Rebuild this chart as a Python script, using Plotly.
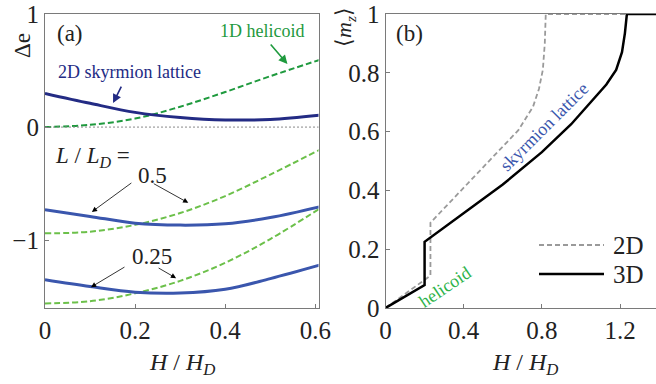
import plotly.graph_objects as go

# ---------------- data: panel (a) ----------------
H_a = [0, 0.1, 0.2, 0.3, 0.4, 0.5, 0.61]
helicoid_1d = [0, 0.02, 0.075, 0.18, 0.31, 0.45, 0.595]
skyrmion_2d = [0.298, 0.21, 0.13, 0.085, 0.063, 0.068, 0.106]
sk_L05 = [-0.73, -0.79, -0.85, -0.867, -0.855, -0.80, -0.705]
he_L05 = [-0.94, -0.925, -0.865, -0.76, -0.61, -0.42, -0.2]
sk_L025 = [-1.35, -1.41, -1.46, -1.468, -1.435, -1.34, -1.22]
he_L025 = [-1.56, -1.54, -1.47, -1.36, -1.2, -0.99, -0.72]

# ---------------- data: panel (b) ----------------
H_2d = [0, 0.23, 0.23, 0.45, 0.68, 0.755, 0.785, 0.805, 0.815, 0.82, 1.4]
mz_2d = [0, 0.11, 0.29, 0.445, 0.605, 0.685, 0.745, 0.81, 0.9, 1.0, 1.0]
H_3d = [0, 0.2, 0.2, 0.23, 0.45, 0.6, 0.8, 0.95, 1.05, 1.13, 1.18, 1.21, 1.225, 1.235, 1.4]
mz_3d = [0, 0.078, 0.225, 0.24, 0.347, 0.42, 0.53, 0.625, 0.70, 0.76, 0.81, 0.87, 0.935, 1.0, 1.0]

xticks_a = [0, 0.2, 0.4, 0.6]
yticks_a = [-1, 0, 1]
xticks_b = [0, 0.4, 0.8, 1.2]
yticks_b = [0, 0.2, 0.4, 0.6, 0.8, 1]

W, Hh = 656, 384
FONT = "Times New Roman, Liberation Serif, serif"
NAVY = "#232b84"
BLUE = "#3a56ad"
DGREEN = "#1f9a3e"
LGREEN = "#6cc04a"
GRAY = "#9a9a9a"
AX = "#7a7a7a"


def px(p):
    return p / W


def py(p):
    return 1 - p / Hh


fig = go.Figure()

# panel (a)
fig.add_trace(go.Scatter(x=H_a, y=helicoid_1d, mode="lines", line=dict(color=DGREEN, width=2, dash="6px,3px", shape="spline"), xaxis="x", yaxis="y"))
fig.add_trace(go.Scatter(x=H_a, y=skyrmion_2d, mode="lines", line=dict(color=NAVY, width=3, shape="spline"), xaxis="x", yaxis="y"))
fig.add_trace(go.Scatter(x=H_a, y=he_L05, mode="lines", line=dict(color=LGREEN, width=2, dash="6px,3px", shape="spline"), xaxis="x", yaxis="y"))
fig.add_trace(go.Scatter(x=H_a, y=sk_L05, mode="lines", line=dict(color=BLUE, width=3, shape="spline"), xaxis="x", yaxis="y"))
fig.add_trace(go.Scatter(x=H_a, y=he_L025, mode="lines", line=dict(color=LGREEN, width=2, dash="6px,3px", shape="spline"), xaxis="x", yaxis="y"))
fig.add_trace(go.Scatter(x=H_a, y=sk_L025, mode="lines", line=dict(color=BLUE, width=3, shape="spline"), xaxis="x", yaxis="y"))

# panel (b)
fig.add_trace(go.Scatter(x=H_2d, y=mz_2d, mode="lines", line=dict(color=GRAY, width=1.8, dash="5px,3px"), xaxis="x2", yaxis="y2"))
fig.add_trace(go.Scatter(x=H_3d, y=mz_3d, mode="lines", line=dict(color="black", width=2.5), xaxis="x2", yaxis="y2"))

axis_common = dict(showgrid=False, zeroline=False, showline=True, linecolor=AX, linewidth=1.2,
                   ticks="inside", ticklen=4, tickcolor=AX, automargin=False,
                   tickfont=dict(family=FONT, size=25, color="#222"))

fig.update_layout(
    width=W, height=Hh, margin=dict(l=0, r=0, t=0, b=0, autoexpand=False),
    font=dict(family=FONT),
    paper_bgcolor="white", plot_bgcolor="white", showlegend=False,
    xaxis=dict(domain=[px(45), px(318.5)], range=[0, 0.607], tickvals=xticks_a, mirror=True, anchor="y", **axis_common),
    yaxis=dict(domain=[py(308), py(14)], range=[-1.6, 1.0], tickvals=yticks_a, mirror=True, anchor="x", **axis_common),
    xaxis2=dict(domain=[px(385.5), 1.0], range=[0, 1.384], tickvals=xticks_b, mirror=True, anchor="y2", **axis_common),
    yaxis2=dict(domain=[py(308), py(14)], range=[0, 1.0], tickvals=yticks_b, mirror=False, anchor="x2", **axis_common),
)

# dotted zero line in panel (a)
fig.add_shape(type="line", xref="x domain", yref="y", x0=0, x1=1, y0=0, y1=0,
              line=dict(color="#888", width=1, dash="2px,2px"))

# legend for panel (b) drawn manually
fig.add_shape(type="line", xref="paper", yref="paper", x0=px(539), x1=px(604), y0=py(245), y1=py(245),
              line=dict(color=GRAY, width=1.8, dash="5px,3px"))
fig.add_shape(type="line", xref="paper", yref="paper", x0=px(539), x1=px(604), y0=py(274), y1=py(274),
              line=dict(color="black", width=2.5))

ann = []


def text(x, y, s, size, color="#222", angle=0, xanchor="center"):
    ann.append(dict(x=px(x), y=py(y), xref="paper", yref="paper", text=s, showarrow=False,
                    font=dict(family=FONT, size=size, color=color), textangle=angle,
                    xanchor=xanchor, yanchor="middle"))


text(70, 33, "(a)", 23)
text(409, 33, "(b)", 23)
text(23, 46, "Δe", 23, angle=-90)
text(345, 27, "⟨<i>m</i><sub><i>z</i></sub>⟩", 22, angle=-90)
text(182, 364, "<i>H</i> / <i>H</i><sub><i>D</i></sub>", 24)
text(525, 364, "<i>H</i> / <i>H</i><sub><i>D</i></sub>", 24)
text(262, 31, "1D helicoid", 18, color=DGREEN)
text(129, 72, "2D skyrmion lattice", 18, color=NAVY)
text(93, 157, "<i>L</i> / <i>L</i><sub><i>D</i></sub> =", 23)
text(152, 175, "0.5", 23)
text(152, 256, "0.25", 23)
text(544, 127, "skyrmion lattice", 18, color=BLUE, angle=-45)
text(445, 287, "helicoid", 18, color="#2db34a", angle=-34)
text(611, 245, "2D", 25, xanchor="left")
text(611, 274, "3D", 25, xanchor="left")


def arrow(x, y, ax, ay, color, width, head, size):
    ann.append(dict(x=x, y=y, xref="x", yref="y", ax=ax, ay=ay, text="", showarrow=True,
                    arrowcolor=color, arrowwidth=width, arrowhead=head, arrowsize=size))


arrow(0.151, 0.212, 9, -18, NAVY, 1.6, 2, 1.1)
arrow(0.538, 0.558, -18, -21, DGREEN, 1.6, 2, 1.1)
arrow(0.104, -0.75, 41, -30, "black", 0.8, 2, 1.3)
arrow(0.318, -0.67, -36, -20, "black", 0.8, 2, 1.3)
arrow(0.102, -1.416, 35, -21, "black", 0.8, 2, 1.3)
arrow(0.291, -1.336, -19, -11, "black", 0.8, 2, 1.3)

fig.update_layout(annotations=ann)

fig.write_html("out.html")
